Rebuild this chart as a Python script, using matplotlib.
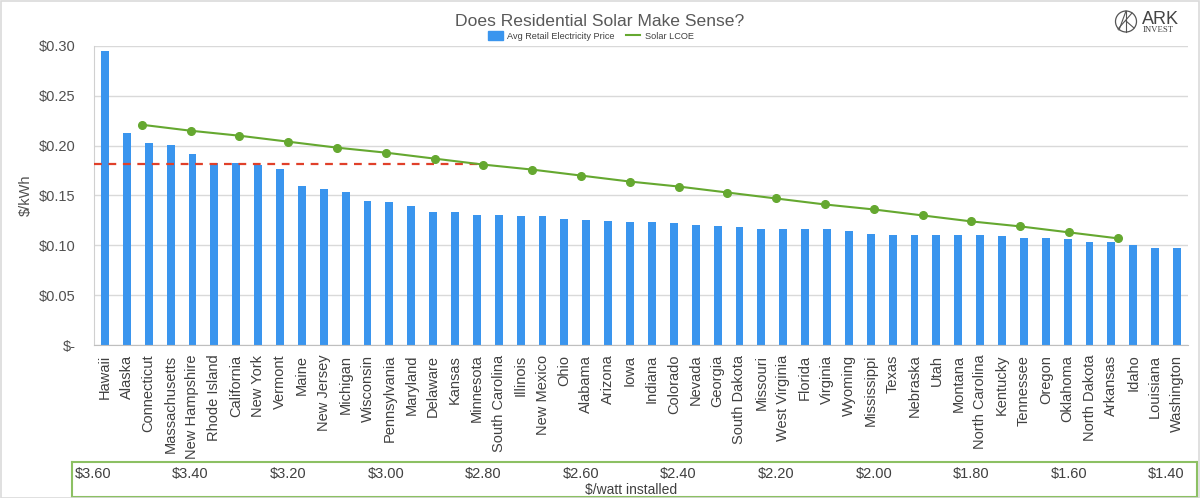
import matplotlib
matplotlib.use("Agg")
import matplotlib.pyplot as plt
from matplotlib.patches import Rectangle, Ellipse
from matplotlib.lines import Line2D
import numpy as np

plt.rcParams['font.family'] = ['Liberation Sans', 'DejaVu Sans']

# ---------------- data ----------------
states = ["Hawaii", "Alaska", "Connecticut", "Massachusetts", "New Hampshire",
          "Rhode Island", "California", "New York", "Vermont", "Maine",
          "New Jersey", "Michigan", "Wisconsin", "Pennsylvania", "Maryland",
          "Delaware", "Kansas", "Minnesota", "South Carolina", "Illinois",
          "New Mexico", "Ohio", "Alabama", "Arizona", "Iowa", "Indiana",
          "Colorado", "Nevada", "Georgia", "South Dakota", "Missouri",
          "West Virginia", "Florida", "Virginia", "Wyoming", "Mississippi",
          "Texas", "Nebraska", "Utah", "Montana", "North Carolina", "Kentucky",
          "Tennessee", "Oregon", "Oklahoma", "North Dakota", "Arkansas",
          "Idaho", "Louisiana", "Washington"]
retail_price = [0.295, 0.213, 0.203, 0.201, 0.192,
                0.183, 0.183, 0.181, 0.177, 0.160,
                0.157, 0.154, 0.144, 0.143, 0.139,
                0.133, 0.133, 0.130, 0.130, 0.129,
                0.129, 0.126, 0.125, 0.124, 0.123, 0.123,
                0.122, 0.120, 0.119, 0.118, 0.116,
                0.116, 0.116, 0.116, 0.114, 0.111,
                0.110, 0.110, 0.110, 0.110, 0.110, 0.109,
                0.107, 0.107, 0.106, 0.103, 0.103,
                0.100, 0.097, 0.097]

watt_installed = [3.50, 3.40, 3.30, 3.20, 3.10, 3.00, 2.90, 2.80, 2.70, 2.60,
                  2.50, 2.40, 2.30, 2.20, 2.10, 2.00, 1.90, 1.80, 1.70, 1.60, 1.50]
solar_lcoe = [0.221, 0.215, 0.210, 0.204, 0.198, 0.193, 0.187, 0.181, 0.176, 0.170,
              0.164, 0.159, 0.153, 0.147, 0.141, 0.136, 0.130, 0.124, 0.119, 0.113, 0.107]

watt_ticks = [3.60, 3.40, 3.20, 3.00, 2.80, 2.60, 2.40, 2.20, 2.00, 1.80, 1.60, 1.40]
watt_tick_labels = ["$3.60", "$3.40", "$3.20", "$3.00", "$2.80", "$2.60",
                    "$2.40", "$2.20", "$2.00", "$1.80", "$1.60", "$1.40"]
y_ticks = [0.0, 0.05, 0.10, 0.15, 0.20, 0.25, 0.30]
y_tick_labels = ["$-", "$0.05", "$0.10", "$0.15", "$0.20", "$0.25", "$0.30"]

breakeven_price = 0.182
breakeven_watt = 2.80

# ---------------- style ----------------
W, H = 1200, 498
BAR = '#3A95EE'
GREEN = '#65A830'
RED = '#E0402A'
TXT = '#404040'
GRID = '#D9D9D9'

fig = plt.figure(figsize=(W / 100, H / 100), dpi=100)

def fx(px):
    return px / W

def fy(py):
    return 1 - py / H

# main axes
L, R, T, B = 94, 1188, 46, 345
ax = fig.add_axes([fx(L), fy(B), fx(R - L), (B - T) / H])
x = np.arange(len(states))
ax.bar(x, retail_price, width=0.36, color=BAR, zorder=2)
ax.set_xlim(-0.5, len(states) - 0.5)
ax.set_ylim(0, 0.30)
ax.set_yticks(y_ticks)
ax.set_yticklabels(y_tick_labels, fontsize=10.5, color='#505050')
ax.set_xticks(x)
ax.set_xticklabels(states, rotation=90, fontsize=10.5, color=TXT, va='top', ha='center')
ax.tick_params(axis='both', length=0)
ax.tick_params(axis='y', pad=13)
ax.tick_params(axis='x', pad=7)
ax.yaxis.grid(True, color=GRID, linewidth=1.0, zorder=0)
ax.set_axisbelow(True)
for s in ['top', 'right']:
    ax.spines[s].set_visible(False)
ax.spines['left'].set_color('#D0D0D0')
ax.spines['bottom'].set_color('#BFBFBF')
ax.set_ylabel("$/kWh", fontsize=10.5, color='#505050')
ax.yaxis.set_label_coords((33 - L) / (R - L), 0.5)

# secondary axis ($/watt installed) for the LCOE line
px_per_dollar = 488.0
x_at_360 = 93.0
def px_to_watt(p):
    return 3.60 - (p - x_at_360) / px_per_dollar

ax2 = ax.twiny()
ax2.set_xlim(px_to_watt(L), px_to_watt(R))
ax2.set_ylim(0, 0.30)
ax2.plot(watt_installed, solar_lcoe, color=GREEN, linewidth=1.5, marker='o',
         markersize=5.5, zorder=4, label="Solar LCOE")
ax2.hlines(breakeven_price, px_to_watt(L), breakeven_watt, colors=RED,
           linewidth=1.6, linestyles=(0, (3.5, 3)), zorder=3)
ax2.set_xticks([])
for s in ax2.spines.values():
    s.set_visible(False)

# bottom box axis for $/watt installed
bl, br, bt, bb = 72, 1197, 462, 497
axb = fig.add_axes([fx(bl), fy(bb), fx(br - bl), (bb - bt) / H])
axb.set_xlim(px_to_watt(bl), px_to_watt(br))
axb.set_ylim(0, 1)
axb.set_yticks([])
axb.set_xticks(watt_ticks)
axb.set_xticklabels(watt_tick_labels, fontsize=10.5, color=TXT)
axb.xaxis.set_ticks_position('top')
axb.tick_params(axis='x', length=0, pad=-14)
for s in axb.spines.values():
    s.set_color('#8CC063')
    s.set_linewidth(1.5)
axb.patch.set_alpha(0)
axb.text(0.497, 0.2, "$/watt installed", transform=axb.transAxes, ha='center',
         va='center', fontsize=10, color=TXT)

# title & legend
fig.text(0.5, fy(21), "Does Residential Solar Make Sense?", ha='center', va='center',
         fontsize=12.6, color='#595959')
handles = [Rectangle((0, 0), 1, 1, color=BAR),
           Line2D([0], [0], color=GREEN, linewidth=1.5)]
fig.legend(handles, ["Avg Retail Electricity Price", "Solar LCOE"], loc='center',
           bbox_to_anchor=(fx(591), fy(36)), ncol=2, frameon=False, fontsize=6.6,
           handlelength=1.6, handleheight=1.1, columnspacing=1.2, handletextpad=0.5,
           labelcolor='#404040')

# logo
cx, cy, r = 1126, 21.5, 10.5
fig.patches.append(Ellipse((fx(cx), fy(cy)), 2 * r / W, 2 * r / H, transform=fig.transFigure,
                           fill=False, ec='#555555', lw=0.9))
for (x0, y0, x1, y1) in [(1126, 11, 1119, 30), (1126, 11, 1126, 32),
                         (1132, 13, 1118, 29), (1126, 21, 1134, 28)]:
    fig.lines.append(Line2D([fx(x0), fx(x1)], [fy(y0), fy(y1)], transform=fig.transFigure,
                            color='#555555', lw=0.8))
fig.text(fx(1142), fy(19), "ARK", ha='left', va='center', fontsize=13,
         color='#444444', fontweight='light')
fig.text(fx(1143), fy(30), "INVEST", ha='left', va='center', fontsize=6.3,
         color='#444444', family=['Liberation Serif', 'DejaVu Serif'])

# outer frame
fig.patches.append(Rectangle((0.5 / W, 0.5 / H), 1 - 1.5 / W, 1 - 1.5 / H,
                             transform=fig.transFigure, fill=False, ec='#DADADA', lw=1.2))

fig.savefig("out.png", dpi=100)
